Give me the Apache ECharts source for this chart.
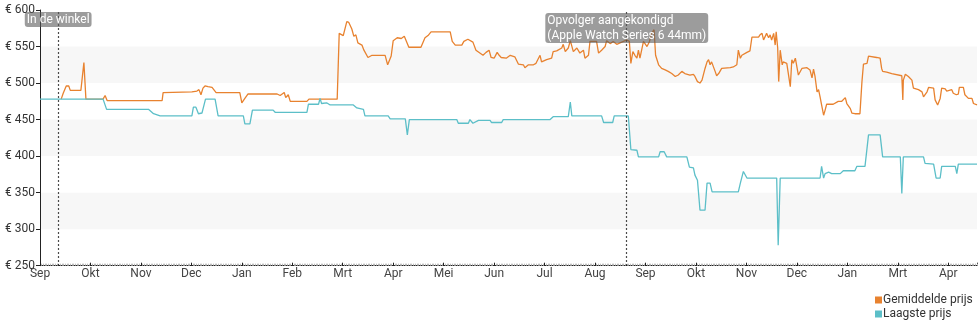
<!DOCTYPE html>
<html>
<head>
<meta charset="utf-8">
<script src="https://cdn.jsdelivr.net/npm/echarts@6/dist/echarts.min.js"></script>
<style>
  html, body { margin: 0; padding: 0; background: #fff; }
  #chart { width: 980px; height: 325px; }
</style>
</head>
<body>
<div id="chart"></div>
<script>
// Month tick labels (one tick per month step on the x axis)
const monthLabels = ['Sep','Okt','Nov','Dec','Jan','Feb','Mrt','Apr','Mei','Jun','Jul','Aug',
                     'Sep','Okt','Nov','Dec','Jan','Mrt','Apr'];

// Gemiddelde prijs: position in months since the first tick, price in euro
const avgMonth = [0.42,0.46,0.52,0.57,0.60,0.81,0.87,0.91,1.25,1.29,1.33,2.42,2.44,3.01,3.03,3.11,3.15,3.19,3.23,3.27,
  3.33,3.41,3.49,3.96,4.00,4.06,4.12,4.70,4.76,4.84,4.87,4.92,4.96,5.29,5.33,5.89,5.93,6.01,6.08,6.12,
  6.18,6.22,6.26,6.30,6.38,6.42,6.50,6.58,6.84,6.89,6.96,7.00,7.08,7.16,7.22,7.25,7.31,7.55,7.63,7.69,
  7.75,8.13,8.17,8.23,8.36,8.40,8.48,8.58,8.64,8.78,8.84,8.90,8.94,9.00,9.06,9.10,9.14,9.24,9.32,9.41,
  9.48,9.58,9.61,9.68,9.78,9.83,9.91,9.94,10.04,10.14,10.17,10.24,10.34,10.37,10.41,10.47,10.51,10.57,10.64,10.70,
  10.77,10.80,10.87,10.90,11.03,11.07,11.13,11.20,11.23,11.30,11.36,11.43,11.53,11.63,11.68,11.71,11.75,11.79,11.83,11.86,
  11.89,11.96,12.03,12.08,12.12,12.17,12.20,12.26,12.32,12.39,12.45,12.52,12.59,12.65,12.72,12.78,12.88,12.95,12.98,13.03,
  13.08,13.12,13.18,13.22,13.25,13.28,13.31,13.38,13.41,13.45,13.51,13.68,13.74,13.81,13.84,13.88,13.91,13.94,14.01,14.07,
  14.11,14.14,14.24,14.27,14.31,14.34,14.37,14.40,14.44,14.47,14.50,14.54,14.57,14.59,14.62,14.64,14.67,14.71,14.73,14.80,
  14.87,14.90,14.93,14.97,15.00,15.03,15.06,15.10,15.20,15.26,15.30,15.33,15.36,15.40,15.43,15.46,15.49,15.53,15.56,15.59,
  15.72,15.82,15.89,15.96,15.99,16.06,16.09,16.15,16.25,16.29,16.32,16.39,16.42,16.45,16.58,16.65,16.68,16.70,16.78,16.88,
  16.91,17.08,17.10,17.11,17.15,17.21,17.28,17.31,17.41,17.48,17.51,17.54,17.58,17.61,17.71,17.74,17.79,17.84,17.87,17.94,
  17.97,18.07,18.10,18.16,18.20,18.22,18.30,18.33,18.40,18.47,18.50,18.57];
const avgPrice = [478,486,496,496,490,490,528,478,478,483,476,476,487,488,490,489,491,484,493,496,
  495,494,487,487,473,479,485,485,483,487,480,484,475,475,478,478,568,565,584,583,
  574,564,566,555,552,545,535,538,538,525,537,558,562,561,564,562,549,549,562,565,
  570,570,557,552,552,557,560,556,545,538,542,545,535,534,542,538,535,534,538,536,
  526,525,521,525,525,527,538,529,532,534,543,544,548,553,543,548,558,543,548,541,
  545,534,538,557,557,541,545,550,558,554,557,553,556,559,557,527,543,538,534,545,
  534,557,550,557,568,573,538,525,520,518,516,513,509,511,516,513,511,512,509,502,
  500,504,520,529,532,525,529,516,510,513,520,521,522,525,545,534,538,536,542,544,
  563,565,563,566,568,559,561,568,562,566,559,568,552,570,548,502,545,525,529,527,
  495,532,527,534,535,511,511,520,521,518,507,519,509,488,491,481,470,456,463,471,
  471,475,475,480,472,465,459,458,458,502,526,527,537,536,535,534,520,516,515,513,
  511,510,477,504,512,509,504,493,491,488,481,481,488,494,493,477,470,479,493,492,
  489,491,486,484,485,494,494,484,479,479,472,470];

// Laagste prijs: position in months since the first tick, price in euro
const lowMonth = [0.00,1.25,1.32,2.15,2.25,2.38,3.01,3.04,3.09,3.14,3.21,3.24,3.28,3.47,3.53,4.03,4.06,4.16,4.21,4.62,
  4.66,5.29,5.32,5.52,5.55,5.58,5.68,5.75,6.21,6.28,6.41,6.44,6.90,6.94,7.24,7.28,7.32,8.26,8.29,8.49,
  8.52,8.58,8.69,8.92,8.95,9.15,9.18,10.11,10.17,10.47,10.51,10.54,11.13,11.17,11.35,11.38,11.66,11.71,11.83,11.86,
  12.26,12.29,12.37,12.42,12.82,12.87,12.95,12.98,13.03,13.08,13.18,13.22,13.28,13.32,13.84,13.88,13.91,13.94,13.97,14.01,
  14.60,14.63,14.67,15.46,15.49,15.53,15.56,15.63,15.69,15.86,15.92,16.15,16.19,16.35,16.42,16.65,16.70,17.05,17.08,17.11,
  17.51,17.54,17.71,17.76,17.84,17.87,18.14,18.17,18.20,18.57];
const lowPrice = [478,478,464,464,458,455,455,467,467,458,459,467,478,478,455,455,444,444,463,463,
  460,460,471,471,479,472,473,470,470,466,464,455,455,451,451,429,450,450,445,445,
  450,445,449,449,446,446,450,450,454,454,474,455,455,446,446,455,455,409,408,399,
  399,406,406,399,399,385,384,374,367,326,326,363,363,351,351,363,363,379,377,370,
  370,278,370,370,386,370,376,378,376,376,380,380,386,386,429,429,399,399,349,399,
  399,390,389,370,370,386,386,376,389,389];

// Vertical event markers
const eventMonth = [0.357, 11.615];
const eventText = ['In de winkel', 'Opvolger aangekondigd\n(Apple Watch Series 6 44mm)'];

const FONT = 'Roboto, "Noto Sans", sans-serif';
const zip = (xs, ys) => xs.map((x, i) => [x, ys[i]]);

const eventLabelBase = {
  show: true,
  color: '#fff',
  fontFamily: FONT,
  fontSize: 12,
  lineHeight: 15,
  backgroundColor: 'rgba(90,90,90,0.6)',
  borderRadius: 3,
  padding: [0, 2]
};

const chart = echarts.init(document.getElementById('chart'), null, { renderer: 'canvas' });
chart.setOption({
  animation: false,
  backgroundColor: '#fff',
  textStyle: { fontFamily: FONT },
  grid: { left: 40, right: 3, top: 10, bottom: 59.3, containLabel: false },
  legend: {
    orient: 'vertical',
    left: 870,
    top: 289,
    itemWidth: 7,
    itemHeight: 7,
    itemGap: 2,
    icon: 'rect',
    textStyle: { fontFamily: FONT, fontSize: 12, color: '#333', padding: [0, 0, 0, -4] },
    data: ['Gemiddelde prijs', 'Laagste prijs']
  },
  xAxis: {
    type: 'value',
    min: 0,
    max: 18.57,
    interval: 1,
    axisLine: { show: true, lineStyle: { color: '#222', width: 1 } },
    axisTick: { show: true, inside: true, length: 3, lineStyle: { color: '#222' } },
    minorTick: { show: true, splitNumber: 30, length: 2, lineStyle: { color: '#bbb' } },
    splitLine: { show: false },
    axisLabel: {
      margin: 2,
      color: '#444',
      fontSize: 12,
      fontFamily: FONT,
      showMaxLabel: false,
      formatter: v => Number.isInteger(v) ? (monthLabels[v] || '') : ''
    }
  },
  yAxis: {
    type: 'value',
    min: 250,
    max: 600,
    interval: 50,
    axisLine: { show: true, lineStyle: { color: '#222', width: 1 } },
    axisTick: { show: true, length: 4, lineStyle: { color: '#222' } },
    splitLine: { show: false },
    splitArea: { show: true, areaStyle: { color: ['rgba(255,255,255,0)', '#f7f7f7'] } },
    axisLabel: {
      margin: 5,
      color: '#333',
      fontSize: 12,
      fontFamily: FONT,
      formatter: v => '€ ' + v
    }
  },
  series: [
    {
      name: 'Gemiddelde prijs',
      type: 'line',
      data: zip(avgMonth, avgPrice),
      showSymbol: false,
      color: '#e8822f',
      lineStyle: { width: 1.3, color: '#e8822f' },
      markLine: {
        silent: true,
        symbol: ['none', 'none'],
        lineStyle: { type: [1.5, 2.5], color: '#111', width: 1.2 },
        data: [
          { xAxis: eventMonth[0], label: Object.assign({}, eventLabelBase, { position: 'end', formatter: eventText[0], offset: [0, 22] }) },
          { xAxis: eventMonth[1], label: Object.assign({}, eventLabelBase, { position: 'end', formatter: eventText[1], align: 'left', offset: [-81, 38] }) }
        ]
      }
    },
    {
      name: 'Laagste prijs',
      type: 'line',
      data: zip(lowMonth, lowPrice),
      showSymbol: false,
      color: '#5cbfc8',
      lineStyle: { width: 1.3, color: '#5cbfc8' }
    }
  ]
});
</script>
</body>
</html>
